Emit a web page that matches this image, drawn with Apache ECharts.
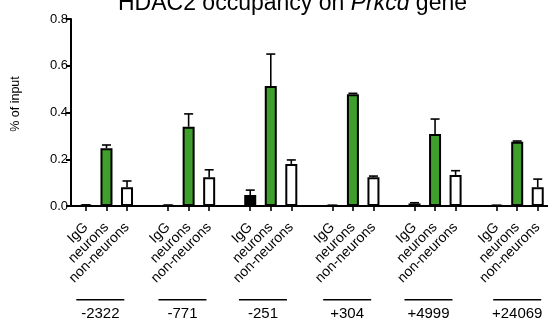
<!DOCTYPE html>
<html><head><meta charset="utf-8">
<script src="https://cdn.jsdelivr.net/npm/echarts@6/dist/echarts.min.js"></script>
<style>html,body{margin:0;padding:0;background:#fff}#c{width:548px;height:323px}</style>
</head><body><div id="c"></div>
<script>
// ---- data ----
const groups = ['-2322', '-771', '-251', '+304', '+4999', '+24069'];
const sampleTypes = ['IgG', 'neurons', 'non-neurons'];
const iggValues = [0.003, 0.003, 0.047, 0.002, 0.011, 0.002];
const iggErr = [0.002, 0.001, 0.021, 0.001, 0.003, 0.001];
const neuronValues = [0.247, 0.339, 0.513, 0.478, 0.308, 0.275];
const neuronErr = [0.014, 0.055, 0.137, 0.004, 0.064, 0.003];
const nonNeuronValues = [0.080, 0.123, 0.180, 0.123, 0.133, 0.080];
const nonNeuronErr = [0.027, 0.032, 0.017, 0.005, 0.018, 0.035];
const yTicks = [0, 0.2, 0.4, 0.6, 0.8];

// ---- layout (not data) ----
const groupLabelShift = [-0.3, -0.3, -0.38, -0.28, -0.32, 0];
const FONT = 'Liberation Sans, Arial, Helvetica, sans-serif';

const categories = [];
groups.forEach((g, gi) => {
  sampleTypes.forEach(t => categories.push(g + '|' + t));
  if (gi < groups.length - 1) categories.push(g + '|');
});
const slot = (gi, ti) => gi * 4 + ti;
function barData(vals, ti) {
  const arr = new Array(categories.length).fill(null);
  vals.forEach((v, gi) => { arr[slot(gi, ti)] = v; });
  return arr;
}
const errData = [];
[[iggValues, iggErr], [neuronValues, neuronErr], [nonNeuronValues, nonNeuronErr]].forEach(([vals, errs], ti) => {
  vals.forEach((v, gi) => errData.push([slot(gi, ti), v, errs[gi]]));
});

const chart = echarts.init(document.getElementById('c'), null, { renderer: 'canvas' });
const barCommon = {
  type: 'bar', xAxisIndex: 0, yAxisIndex: 0, barWidth: 12, barGap: '-100%',
  animation: false, silent: true
};
chart.setOption({
  animation: false,
  textStyle: { fontFamily: FONT, color: '#000' },
  title: {
    text: 'HDAC2 occupancy on {i|Prkcd} gene',
    left: 118, top: -8, padding: 0,
    textStyle: {
      fontSize: 23, fontWeight: 'normal', color: '#000', fontFamily: FONT,
      rich: { i: { fontStyle: 'italic', fontSize: 23, color: '#000', fontFamily: FONT } }
    }
  },
  grid: [
    { left: 75.68, right: -2.3, top: 19, bottom: 117 },
    { left: 71, right: 0, top: 19, bottom: 117 }
  ],
  xAxis: [
    {
      type: 'category', gridIndex: 0, data: categories,
      axisLine: { show: false },
      axisTick: {
        show: true, alignWithLabel: true, length: 5,
        interval: (i, v) => v.split('|')[1] !== '',
        lineStyle: { color: '#000', width: 1.6 }
      },
      axisLabel: {
        interval: 0, rotate: 45, fontSize: 14, margin: 19, color: '#000',
        formatter: v => v.split('|')[1]
      }
    },
    {
      type: 'value', gridIndex: 0, position: 'bottom', min: -0.5, max: categories.length - 0.5,
      axisLine: { show: false }, axisTick: { show: false }, splitLine: { show: false },
      axisLabel: {
        customValues: groups.map((g, gi) => slot(gi, 1) + groupLabelShift[gi]),
        margin: 93, color: '#000',
        formatter: v => {
          const gi = Math.round((v - 1) / 4);
          return '{l|}\n{t|' + groups[gi] + '}';
        },
        rich: {
          l: { width: 48, height: 1.6, lineHeight: 1.6, backgroundColor: '#000' },
          t: { fontSize: 15, lineHeight: 27, color: '#000', fontFamily: FONT }
        }
      }
    },
    {
      type: 'value', gridIndex: 1, min: 0, max: 1,
      axisLine: { show: true, lineStyle: { color: '#000', width: 2 } },
      axisTick: { show: false }, axisLabel: { show: false }, splitLine: { show: false }
    }
  ],
  yAxis: [
    { type: 'value', gridIndex: 0, min: 0, max: 0.8, show: false },
    {
      type: 'value', gridIndex: 1, min: yTicks[0], max: yTicks[yTicks.length - 1], interval: 0.2,
      axisLine: { show: true, lineStyle: { color: '#000', width: 2 } },
      axisTick: { show: true, length: 5, lineStyle: { color: '#000', width: 2 } },
      axisLabel: { fontSize: 13, margin: 3, color: '#000', formatter: v => v.toFixed(1) },
      splitLine: { show: false },
      name: '% of input', nameLocation: 'middle', nameGap: 49,
      nameTextStyle: { fontSize: 12.5, color: '#000', fontFamily: FONT, padding: [0, 0, 0, 17] }
    }
  ],
  series: [
    Object.assign({}, barCommon, { name: 'IgG', data: barData(iggValues, 0),
      itemStyle: { color: '#000', borderColor: '#000', borderWidth: 2 } }),
    Object.assign({}, barCommon, { name: 'neurons', data: barData(neuronValues, 1),
      itemStyle: { color: '#3f9f2c', borderColor: '#000', borderWidth: 2 } }),
    Object.assign({}, barCommon, { name: 'non-neurons', data: barData(nonNeuronValues, 2),
      itemStyle: { color: '#fff', borderColor: '#000', borderWidth: 2 } }),
    {
      type: 'custom', xAxisIndex: 0, yAxisIndex: 0, data: errData, z: 5, silent: true,
      encode: { x: 0, y: 1 },
      renderItem(params, api) {
        const x = api.value(0), v = api.value(1), e = api.value(2);
        const p0 = api.coord([x, v]);
        const p1 = api.coord([x, v + e]);
        const half = 4.5;
        return {
          type: 'group', children: [
            { type: 'line', shape: { x1: p0[0], y1: p0[1], x2: p1[0], y2: p1[1] }, style: { stroke: '#000', lineWidth: 1.6 } },
            { type: 'line', shape: { x1: p1[0] - half, y1: p1[1], x2: p1[0] + half, y2: p1[1] }, style: { stroke: '#000', lineWidth: 1.6 } }
          ]
        };
      }
    }
  ]
});
</script></body></html>
